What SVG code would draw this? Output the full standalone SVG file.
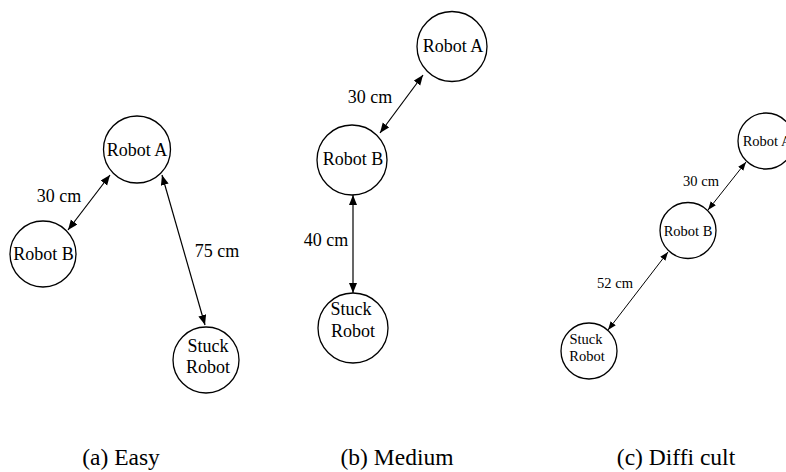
<svg xmlns="http://www.w3.org/2000/svg" width="786" height="472" viewBox="0 0 786 472">
<style>
.node circle{fill:#fff;stroke:#000;stroke-width:1.3}
text{font-family:"Liberation Serif","Times New Roman",serif;fill:#000;text-anchor:middle}
.t18{font-size:18px}
.t14{font-size:14.5px}
.cap{font-size:23.5px}
.conn line{stroke:#000;stroke-width:1.2}
.small line{stroke-width:1}
</style>
<defs>
<marker id="ah" markerUnits="userSpaceOnUse" markerWidth="11" markerHeight="9" refX="10" refY="4" orient="auto-start-reverse"><path d="M0,0 L10,4 L0,8 z" fill="#000"/></marker>
<marker id="ahs" markerUnits="userSpaceOnUse" markerWidth="9" markerHeight="8" refX="8.5" refY="3.25" orient="auto-start-reverse"><path d="M0,0 L8.5,3.25 L0,6.5 z" fill="#000"/></marker>
</defs>
<rect width="786" height="472" fill="#fff"/>
<g id="connectors" class="conn">
<line x1="110" y1="175" x2="68" y2="230" marker-start="url(#ah)" marker-end="url(#ah)"/>
<line x1="162" y1="175" x2="205" y2="325" marker-start="url(#ah)" marker-end="url(#ah)"/>
<line x1="423" y1="75" x2="380" y2="133" marker-start="url(#ah)" marker-end="url(#ah)"/>
<line x1="353" y1="195" x2="353" y2="293" marker-start="url(#ah)" marker-end="url(#ah)"/>
<g class="small">
<line x1="746" y1="162" x2="708" y2="210" marker-start="url(#ahs)" marker-end="url(#ahs)"/>
<line x1="668" y1="252" x2="608" y2="330" marker-start="url(#ahs)" marker-end="url(#ahs)"/>
</g>
</g>
<g id="labels">
<text class="t18" x="59" y="202">30 cm</text>
<text class="t18" x="217" y="257">75 cm</text>
<text class="t18" x="370" y="103">30 cm</text>
<text class="t18" x="326" y="246">40 cm</text>
<text class="t14" x="701" y="186">30 cm</text>
<text class="t14" x="615" y="288">52 cm</text>
</g>
<g id="a-robotA" class="node"><circle cx="137" cy="149.5" r="33.5"/><text class="t18" x="137" y="155.5">Robot A</text></g>
<g id="a-robotB" class="node"><circle cx="43" cy="254" r="33"/><text class="t18" x="43.5" y="260">Robot B</text></g>
<g id="a-stuck" class="node"><circle cx="206" cy="360" r="33"/><text class="t18" x="208" y="352">Stuck</text><text class="t18" x="208" y="373">Robot</text></g>
<g id="b-robotA" class="node"><circle cx="452" cy="46.5" r="35"/><text class="t18" x="453" y="52">Robot A</text></g>
<g id="b-robotB" class="node"><circle cx="352" cy="160" r="35"/><text class="t18" x="353" y="165">Robot B</text></g>
<g id="b-stuck" class="node"><circle cx="353" cy="328" r="35"/><text class="t18" x="351" y="315">Stuck</text><text class="t18" x="353" y="337">Robot</text></g>
<g id="c-robotA" class="node"><circle cx="766" cy="141" r="28"/><text class="t14" x="767" y="145.5">Robot A</text></g>
<g id="c-robotB" class="node"><circle cx="688" cy="230.5" r="28"/><text class="t14" x="688" y="235.5">Robot B</text></g>
<g id="c-stuck" class="node"><circle cx="589" cy="351" r="28"/><text class="t14" x="586" y="344">Stuck</text><text class="t14" x="587" y="361">Robot</text></g>
<g id="captions">
<text class="cap" x="121" y="465">(a) Easy</text>
<text class="cap" x="397" y="465">(b) Medium</text>
<text class="cap" x="676" y="465">(c) Diffi cult</text>
</g>
</svg>
